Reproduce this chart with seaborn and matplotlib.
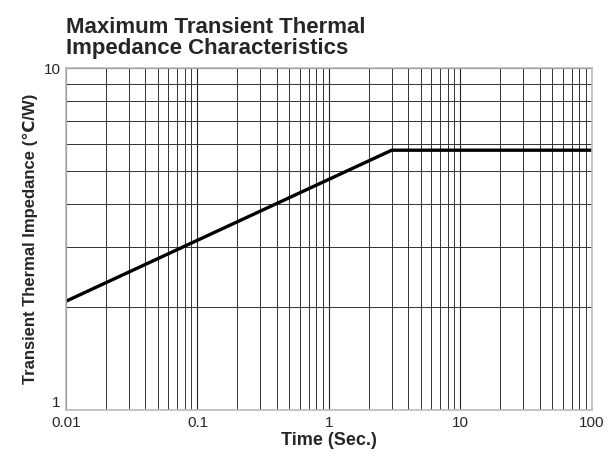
import numpy as np
import pandas as pd
import matplotlib
matplotlib.use('Agg')
import matplotlib.pyplot as plt
import matplotlib.ticker as mticker
import seaborn as sns

# curve (log-log)
time_s = [0.01, 3.0, 100.0]
impedance = [2.08, 5.75, 5.75]

x_ticks = [0.01, 0.1, 1, 10, 100]
x_tick_labels = ['0.01', '0.1', '1', '10', '100']
y_ticks = [1, 10]
y_tick_labels = ['1', '10']

sns.set_style('white')
plt.rcParams['font.family'] = ['Liberation Sans', 'DejaVu Sans']

df = pd.DataFrame({'Time': time_s, 'Zth': impedance})

fig = plt.figure(figsize=(6.15, 4.62), dpi=100)
ax = fig.add_axes([0.1073, 0.1126, 0.8553, 0.7402])

ax.set_xscale('log')
ax.set_yscale('log')
ax.set_xlim(0.01, 100)
ax.set_ylim(1, 10)

# grid lines (decades + minor)
ax.xaxis.set_major_locator(mticker.FixedLocator(x_ticks))
ax.xaxis.set_major_formatter(mticker.FixedFormatter(x_tick_labels))
ax.xaxis.set_minor_locator(mticker.LogLocator(base=10, subs=np.arange(2, 10)))
ax.xaxis.set_minor_formatter(mticker.NullFormatter())
ax.yaxis.set_major_locator(mticker.FixedLocator(y_ticks))
ax.yaxis.set_major_formatter(mticker.FixedFormatter(y_tick_labels))
ax.yaxis.set_minor_locator(mticker.LogLocator(base=10, subs=np.arange(2, 10)))
ax.yaxis.set_minor_formatter(mticker.NullFormatter())
ax.grid(True, which='major', color='#222222', linewidth=0.8)
ax.grid(True, which='minor', color='#333333', linewidth=0.7)
ax.tick_params(which='both', length=0, labelsize=11, pad=4)

sns.lineplot(data=df, x='Time', y='Zth', ax=ax, color='black', linewidth=2.4)

# the "1" sits just above the corner so it clears "0.01"
ax.get_yticklabels()[0].set_va('bottom')

for s in ax.spines.values():
    s.set_color('#bbbbbb')
    s.set_linewidth(1.2)

ax.set_xlabel('Time (Sec.)', fontsize=13, fontweight='bold', labelpad=2)
ax.set_ylabel('Transient Thermal Impedance (℃/W)', fontsize=12, fontweight='bold', labelpad=4)

fig.text(0.108, 0.872, 'Maximum Transient Thermal\nImpedance Characteristics',
         fontsize=16, fontweight='bold', ha='left', va='bottom', linespacing=1.0)

fig.savefig('out.png', dpi=100)
